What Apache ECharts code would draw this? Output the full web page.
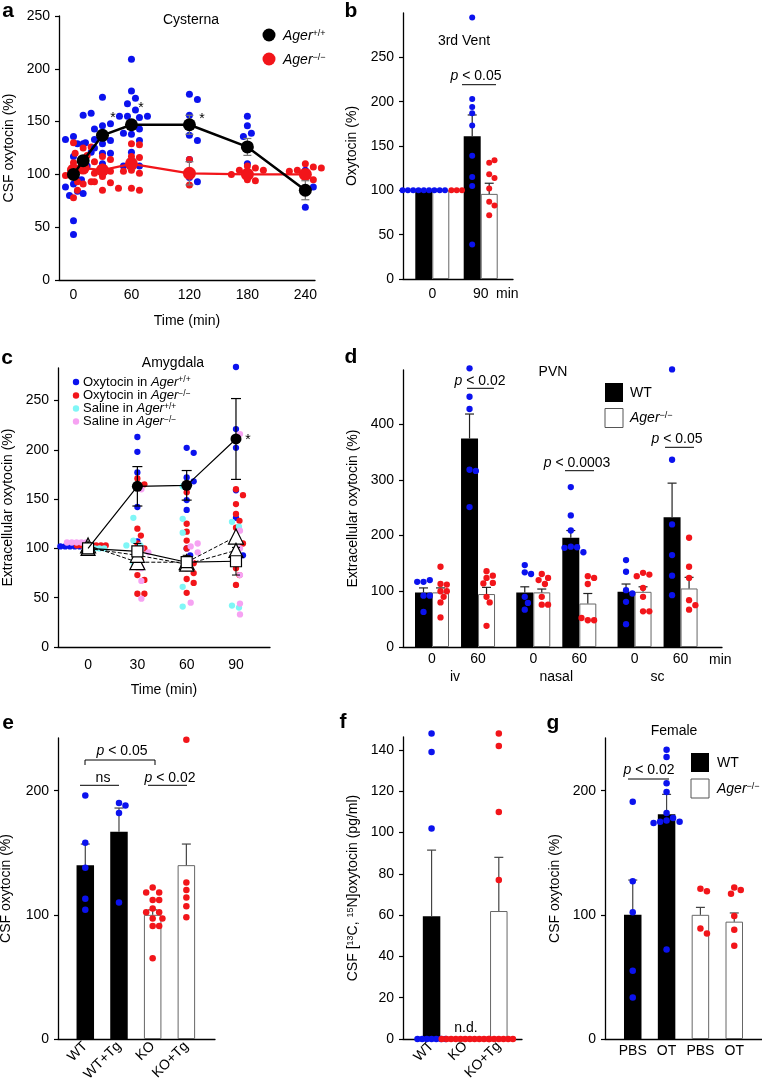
<!DOCTYPE html>
<html><head><meta charset="utf-8">
<script src="https://cdn.jsdelivr.net/npm/echarts@6/dist/echarts.min.js"></script>
<style>html,body{margin:0;padding:0;background:#fff}#c{width:762px;height:1083px}</style>
</head><body><div id="c"></div>
<script>
// ================= DATA =================
// Panel a (Cysterna)
const aTimes = [0, 10, 30, 60, 120, 180, 240];
const aTicks = [0, 60, 120, 180, 240];
const aYTicks = [0, 50, 100, 150, 200, 250];
const aWT = [100, 113, 137, 147, 147, 126, 85];
const aWTerr = [3, 4, 4, 4, 9, 8, 9];
const aKO = [104, 106, 104, 110, 101, 100, 100];
const aKOerr = [3, 3, 3, 5, 11, 3, 4];
const aBlueDots = [
  [136,129,133,117,112,107,91,95,84,88,80,56,43,130],
  [156,158,115,129,108,82,105,121],
  [173,146,148,143,137,132,133,129,125,120,120,110],
  [209,179,172,167,161,155,154,155,155,146,143,138,139,132,121,113,108,108],
  [176,171,156,145,137,132,114,97,93],
  [155,146,139,136,126,110,99],
  [104,87,69,88]
];
const aRedDots = [
  [130,111,100,107,93,78,85,99],
  [125,126,120,118,91,93,105,100],
  [117,114,112,107,103,101,98,92,93,85,87],
  [129,128,117,116,104,101,103,87,85],
  [114,90],
  [108,106,104,104,95,94,100],
  [110,107,101,104,95,106,103]
];
// Panel b (3rd Vent)
const bCats = ['0', '90'];
const bYTicks = [0, 50, 100, 150, 200, 250];
const bWT = [100, 161], bWTerr = [0, 24];
const bKO = [100, 96], bKOerr = [0, 12];
const bBlueDots = [[100,100,100,100,100,100,100,100,100],[295,203,194,187,173,139,115,105,39]];
const bRedDots = [[100,100,100],[131,134,118,114,102,87,83,72]];
// Panel c (Amygdala)
const cTimes = [0, 30, 60, 90];
const cYTicks = [0, 50, 100, 150, 200, 250];
const cOxyWT = [100, 163, 164, 211], cOxyWTerr = [0, 20, 15, 41];
const cOxyKO = [100, 97, 86, 87], cOxyKOerr = [0, 8, 7, 14];
const cSalWT = [103, 86, 86, 112];
const cSalKO = [100, 93, 84, 98];
const cBlueDots = [[102,102,102,102,102,102],[213,198,177,142,107,91],[202,197,172,168,149,139,100,93],[284,221,202,159,131,96,93]];
const cRedDots = [[103,103,103,103,103,103,103],[171,165,120,113,105,100,95,88,81,73,68,54,54],[157,125,117,108,100,90,85,80,75,69,65,55],[160,154,145,135,128,121,110,105,80,73,63]];
const cCyanDots = [[100,100,100,100,100],[131,108,103,103,86],[163,130,116,61,41],[127,122,42,40]];
const cPinkDots = [[106,106,106,106,106],[160,100,96,67,49,80],[102,105,96,45,88],[216,118,100,73,44,33]];
// Panel d (PVN)
const dCats = ['0','60','0','60','0','60'];
const dRoutes = ['iv','nasal','sc'];
const dYTicks = [0, 100, 200, 300, 400];
const dWT = [98, 374, 98, 196, 99, 233], dWTerr = [8, 44, 10, 13, 14, 61];
const dKO = [98, 95, 98, 78, 99, 105], dKOerr = [8, 12, 6, 18, 9, 20];
const dBlueDots = [[117,120,117,92,92,63],[500,449,427,318,316,251],[147,134,131,90,79,67],[287,236,209,180,179,178,170],[156,135,102,96,81,41],[498,336,220,165,128,93]];
const dRedDots = [[144,113,112,100,100,90,80,53],[136,128,124,115,114,90,80,38],[131,124,120,113,90,76,76],[127,124,113,48,48,52],[133,130,127,106,90,64,64],[196,144,124,84,75,67]];
// Panel e
const eCats = ['WT','WT+Tg','KO','KO+Tg'];
const eYTicks = [0, 100, 200];
const eMeans = [140, 167, 100, 140], eErr = [17, 19, 4, 17];
const eIsKO = [false, false, true, true];
const eDots = [[196,158,138,113,104],[190,188,182,110],[122,118,118,112,112,105,102,102,97,97,91,91,65],[241,126,120,114,107,98]];
// Panel f
const fCats = ['WT','KO','KO+Tg'];
const fYTicks = [0, 20, 40, 60, 80, 100, 120, 140];
const fMeans = [59.5, null, 62], fErr = [32, 0, 26];
const fIsKO = [false, true, true];
const fDots = [[148,139,102,0,0,0,0,0,0,0],[0,0,0,0,0,0,0,0,0,0,0],[148,142,110,77,0,0,0,0,0,0]];
// Panel g (Female)
const gCats = ['PBS','OT','PBS','OT'];
const gYTicks = [0, 100, 200];
const gMeans = [100, 181, 100, 94.5], gErr = [28, 16, 6, 7];
const gIsKO = [false, false, true, true];
const gDots = [[191,127,102,55,33.5],[233,227,206,199,182,178,176,175,175,174,72],[121,119,89,85],[122,120,117,99,88,75]];

// ================= LAYOUT / STYLE =================
const FONT = '"Liberation Sans", Arial, Helvetica, sans-serif';
const BLUE = '#0b12ee', RED = '#f2151a', CYAN = '#7ff6f6', PINK = '#f6a2f2';
const L = {
  a:{left:59, top:16, width:256, height:264, x:[-15,250], y:[0,250]},
  b:{left:403, top:13, width:110, height:266, x:[-0.605,1.667], y:[0,300]},
  c:{left:58, top:368, width:212, height:279, x:[-18.3,110.7], y:[0,283]},
  d:{left:403, top:370, width:319, height:277, x:[-0.63,6.30], y:[0,497]},
  e:{left:58, top:738, width:157, height:301, x:[-0.81,3.85], y:[0,242.4]},
  f:{left:403, top:737, width:119, height:302, x:[-0.85,2.69], y:[0,146.3]},
  g:{left:605, top:738, width:157, height:301, x:[-0.82,3.82], y:[0,242.4]}
};
const KEYS = ['a','b','c','d','e','f','g'];
const IDX = {}; KEYS.forEach((k,i)=>IDX[k]=i);
const pxX = k => L[k].width/(L[k].x[1]-L[k].x[0]);
const pxY = k => L[k].height/(L[k].y[1]-L[k].y[0]);

function swarm(vals, k, center, dist, occ) {
  occ = occ || [];
  const step = dist/2, sy = pxY(k);
  return vals.map(v => {
    const y = v*sy; let off = center;
    for (let n=0; n<600; n++) {
      const m = Math.ceil(n/2)*(n%2 ? 1 : -1);
      const cand = center + m*step;
      if (occ.every(p => (p[0]-cand)**2 + (p[1]-y)**2 >= dist*dist*0.98)) { off = cand; break; }
    }
    occ.push([off, y]);
    return off;
  });
}
function dotItems(x, vals, offs) {
  return vals.map((v,i)=>({value:[x, v], symbolOffset:[offs[i], 0]}));
}
function scatter(k, data, color, size, z) {
  return {type:'scatter', xAxisIndex:IDX[k], yAxisIndex:IDX[k], data, symbol:'circle', symbolSize:size,
    itemStyle:{color, opacity:1}, z:z||3, clip:false, silent:true};
}
function errSeries(k, pts, o) {
  return {type:'custom', xAxisIndex:IDX[k], yAxisIndex:IDX[k], z:o.z||4, silent:true, clip:false,
    dimensions:['x','y','e'], encode:{x:'x', y:'y'}, data:pts,
    renderItem(params, api){
      const x = api.value(0), m = api.value(1), e = api.value(2);
      if (!e) return null;
      const p0 = api.coord([x, m]), p1 = api.coord([x, m+e]);
      const p2 = o.both ? api.coord([x, m-e]) : p0;
      const cx = p0[0] + (o.dx||0), cw = o.cap||4.5;
      const st = {stroke:o.color||'#333', lineWidth:o.lw||1.2};
      const ch = [
        {type:'line', shape:{x1:cx,y1:p2[1],x2:cx,y2:p1[1]}, style:st},
        {type:'line', shape:{x1:cx-cw,y1:p1[1],x2:cx+cw,y2:p1[1]}, style:st}
      ];
      if (o.both) ch.push({type:'line', shape:{x1:cx-cw,y1:p2[1],x2:cx+cw,y2:p2[1]}, style:st});
      return {type:'group', children:ch};
    }};
}
const TXT = {color:'#000', fontSize:14, fontFamily:FONT};
function xAx(k, o) {
  return {type:'value', gridIndex:IDX[k], min:L[k].x[0], max:L[k].x[1],
    axisLine:{show:true, onZero:false, lineStyle:{color:'#000', width:1.3}},
    axisTick:{show:false}, splitLine:{show:false},
    axisLabel:Object.assign({color:'#000', fontSize:14, fontFamily:FONT, margin:o.margin||8,
      customValues:o.ticks, formatter:o.fmt}, o.label||{}),
    name:o.name||'', nameLocation:'middle', nameGap:o.nameGap||35, nameTextStyle:TXT};
}
function yAx(k, o) {
  return {type:'value', gridIndex:IDX[k], min:L[k].y[0], max:L[k].y[1],
    axisLine:{show:true, onZero:false, lineStyle:{color:'#000', width:1.3}},
    axisTick:{show:true, length:4, customValues:o.ticks, lineStyle:{color:'#000', width:1.2}},
    splitLine:{show:false},
    axisLabel:{color:'#000', fontSize:14, fontFamily:FONT, margin:9, customValues:o.ticks},
    name:o.name, nameLocation:'middle', nameRotate:90, nameGap:o.nameGap||43,
    nameTextStyle:Object.assign({}, TXT, o.rich?{rich:o.rich}:{})};
}

const option = {animation:false, backgroundColor:'#fff', grid:[], xAxis:[], yAxis:[], series:[], graphic:[]};
KEYS.forEach(k=>option.grid.push({left:L[k].left, top:L[k].top, width:L[k].width, height:L[k].height, containLabel:false, outerBoundsMode:'none'}));
const S = option.series;

// ---------- a ----------
option.xAxis.push(xAx('a', {ticks:aTicks, name:'Time (min)', nameGap:34, margin:8}));
option.yAxis.push(yAx('a', {ticks:aYTicks, name:'CSF oxytocin (%)', nameGap:43}));
aTimes.forEach((t,i)=>{
  const ob = swarm(aBlueDots[i], 'a', 0, 8);
  S.push(scatter('a', dotItems(t, aBlueDots[i], ob), BLUE, 7, 2));
  const orr = swarm(aRedDots[i], 'a', 0, 8);
  S.push(scatter('a', dotItems(t, aRedDots[i], orr), RED, 7, 2));
});
S.push(errSeries('a', aTimes.map((t,i)=>[t, aKO[i], aKOerr[i]]), {both:true, color:'#777', z:3, cap:4}));
S.push({type:'line', xAxisIndex:0, yAxisIndex:0, data:aTimes.map((t,i)=>[t, aKO[i]]), symbol:'circle', symbolSize:13,
  lineStyle:{color:RED, width:2.3}, itemStyle:{color:RED}, z:4, silent:true});
S.push(errSeries('a', aTimes.map((t,i)=>[t, aWT[i], aWTerr[i]]), {both:true, color:'#777', z:5, cap:4}));
S.push({type:'line', xAxisIndex:0, yAxisIndex:0, data:aTimes.map((t,i)=>[t, aWT[i]]), symbol:'circle', symbolSize:13,
  lineStyle:{color:'#000', width:2.5}, itemStyle:{color:'#000'}, z:6, silent:true});

// ---------- b ----------
const bPos = bCats.map((_,i)=>i);
option.xAxis.push(xAx('b', {ticks:bPos, fmt:v=>bCats[Math.round(v)], margin:8}));
option.yAxis.push(yAx('b', {ticks:bYTicks, name:'Oxytocin (%)', nameGap:44}));
S.push({type:'bar', xAxisIndex:1, yAxisIndex:1, data:bPos.map((p,i)=>[p,bWT[i]]), barWidth:17, barGap:'0%', itemStyle:{color:'#000'}, z:2, silent:true});
S.push({type:'bar', xAxisIndex:1, yAxisIndex:1, data:bPos.map((p,i)=>[p,bKO[i]]), barWidth:17, barGap:'0%', itemStyle:{color:'#fff', borderColor:'#666', borderWidth:1}, z:2, silent:true});
S.push(errSeries('b', bPos.map((p,i)=>[p,bWT[i],bWTerr[i]]), {dx:-8.5, color:'#222'}));
S.push(errSeries('b', bPos.map((p,i)=>[p,bKO[i],bKOerr[i]]), {dx:8.5, color:'#222'}));
bPos.forEach((p,i)=>{
  const occ = [];
  const ob = swarm(bBlueDots[i], 'b', -8.5, 5.3, occ);
  S.push(scatter('b', dotItems(p, bBlueDots[i], ob), BLUE, 6, 5));
  const orr = swarm(bRedDots[i], 'b', 8.5, 5.3, occ);
  S.push(scatter('b', dotItems(p, bRedDots[i], orr), RED, 6, 5));
});

// ---------- c ----------
option.xAxis.push(xAx('c', {ticks:cTimes, name:'Time (min)', nameGap:36, margin:11}));
option.yAxis.push(yAx('c', {ticks:cYTicks, name:'Extracellular oxytocin (%)', nameGap:43}));
const cBase = {blue:-11, pink:-7, red:2, cyan:4};
const cSide = {blue:0, red:0, cyan:-4, pink:4};
cTimes.forEach((t,i)=>{
  const sets = [[cBlueDots[i], BLUE, 'blue'], [cRedDots[i], RED, 'red'], [cCyanDots[i], CYAN, 'cyan'], [cPinkDots[i], PINK, 'pink']];
  sets.forEach(([vals, col, nm])=>{
    const cx = i===0 ? cBase[nm]*pxX('c') : cSide[nm];
    const offs = swarm(vals, 'c', cx, i===0 ? 4.8 : 7);
    S.push(scatter('c', dotItems(t, vals, offs), col, 6.3, 2));
  });
});
S.push({type:'line', xAxisIndex:2, yAxisIndex:2, data:cTimes.map((t,i)=>[t,cSalWT[i]]), symbol:'triangle', symbolSize:15,
  lineStyle:{color:'#000', width:1, type:'dashed'}, itemStyle:{color:'#fff', borderColor:'#000', borderWidth:1.2}, z:5, silent:true});
S.push({type:'line', xAxisIndex:2, yAxisIndex:2, data:cTimes.map((t,i)=>[t,cSalKO[i]]), symbol:'triangle', symbolSize:14,
  lineStyle:{color:'#000', width:1, type:'dashed'}, itemStyle:{color:'#fff', borderColor:'#000', borderWidth:1.2}, z:5, silent:true});
S.push(errSeries('c', cTimes.map((t,i)=>[t,cOxyKO[i],cOxyKOerr[i]]), {both:true, color:'#000', z:5, cap:4, lw:1}));
S.push({type:'line', xAxisIndex:2, yAxisIndex:2, data:cTimes.map((t,i)=>[t,cOxyKO[i]]), symbol:'rect', symbolSize:11,
  lineStyle:{color:'#000', width:1.2}, itemStyle:{color:'#fff', borderColor:'#000', borderWidth:1.2}, z:6, silent:true});
S.push(errSeries('c', cTimes.map((t,i)=>[t,cOxyWT[i],cOxyWTerr[i]]), {both:true, color:'#000', z:6, cap:5, lw:1.2}));
S.push({type:'line', xAxisIndex:2, yAxisIndex:2, data:cTimes.map((t,i)=>({value:[t,cOxyWT[i]], symbol: i===0?'none':'circle'})), symbol:'circle', symbolSize:11,
  lineStyle:{color:'#000', width:1.2}, itemStyle:{color:'#000'}, z:7, silent:true});

// ---------- d ----------
const dPos = dCats.map((_,i)=>i + 0.2*Math.floor(i/2));
option.xAxis.push(xAx('d', {ticks:dPos, fmt:v=>dCats[dPos.findIndex(p=>Math.abs(p-v)<1e-6)], margin:5}));
option.yAxis.push(yAx('d', {ticks:dYTicks, name:'Extracellular oxytocin (%)', nameGap:43}));
S.push({type:'bar', xAxisIndex:3, yAxisIndex:3, data:dPos.map((p,i)=>[p,dWT[i]]), barWidth:17, barGap:'0%', itemStyle:{color:'#000'}, z:2, silent:true});
S.push({type:'bar', xAxisIndex:3, yAxisIndex:3, data:dPos.map((p,i)=>[p,dKO[i]]), barWidth:17, barGap:'0%', itemStyle:{color:'#fff', borderColor:'#666', borderWidth:1}, z:2, silent:true});
S.push(errSeries('d', dPos.map((p,i)=>[p,dWT[i],dWTerr[i]]), {dx:-8.5, color:'#222'}));
S.push(errSeries('d', dPos.map((p,i)=>[p,dKO[i],dKOerr[i]]), {dx:8.5, color:'#222'}));
dPos.forEach((p,i)=>{
  S.push(scatter('d', dotItems(p, dBlueDots[i], swarm(dBlueDots[i], 'd', -8.5, 6.3)), BLUE, 6.3, 5));
  S.push(scatter('d', dotItems(p, dRedDots[i], swarm(dRedDots[i], 'd', 8.5, 6.3)), RED, 6.3, 5));
});

// ---------- e / f / g ----------
function barPanel(k, cats, means, errs, isKO, dots, yTicks, yName, nameGap, rot, dist) {
  const pos = cats.map((_,i)=>i);
  option.xAxis.push(xAx(k, {ticks:pos, fmt:v=>cats[Math.round(v)], margin:5, label: rot?{rotate:45}:{}}));
  option.yAxis.push(yAx(k, {ticks:yTicks, name:yName, nameGap, rich:{s:{fontSize:9, fontFamily:FONT, color:'#000', verticalAlign:'top'}}}));
  const bd = [];
  pos.forEach((p,i)=>{ if (means[i]!=null) bd.push({value:[p, means[i]], itemStyle: isKO[i] ? {color:'#fff', borderColor:'#666', borderWidth:1} : {color:'#000'}}); });
  S.push({type:'bar', xAxisIndex:IDX[k], yAxisIndex:IDX[k], data:bd, barWidth:17.5, z:2, silent:true});
  S.push(errSeries(k, pos.filter(i=>means[i]!=null).map(i=>[i, means[i], errs[i]]), {color:'#444', z:3}));
  pos.forEach((p,i)=>{
    S.push(scatter(k, dotItems(p, dots[i], swarm(dots[i], k, 0, dist)), isKO[i]?RED:BLUE, 6.5, 5));
  });
}
barPanel('e', eCats, eMeans, eErr, eIsKO, eDots, eYTicks, 'CSF oxytocin (%)', 45, true, 6.5);
barPanel('f', fCats, fMeans, fErr, fIsKO, fDots, fYTicks, 'CSF [{s|13}C, {s|15}N]oxytocin (pg/ml)', 43, true, 4.7);
barPanel('g', gCats, gMeans, gErr, gIsKO, gDots, gYTicks, 'CSF oxytocin (%)', 43, false, 6.5);

// ================= ANNOTATIONS =================
const G = option.graphic;
const RICH = {
  i:{fontStyle:'italic', fontSize:14, fontFamily:FONT, fill:'#000'},
  s:{fontSize:9, fontFamily:FONT, fill:'#000', verticalAlign:'top'},
  i13:{fontStyle:'italic', fontSize:13, fontFamily:FONT, fill:'#000'},
  s13:{fontSize:8.5, fontFamily:FONT, fill:'#000', verticalAlign:'top'}
};
function txt(x, y, text, o) {
  o = o || {};
  return {type:'text', x, y, silent:true, z:100, style:{text, fill:'#000', fontSize:o.size||14, fontFamily:FONT,
    fontWeight:o.weight||'normal', fontStyle:o.style||'normal', textAlign:o.align||'center', textVerticalAlign:o.va||'middle', rich:RICH}};
}
function ln(x1, y1, x2, y2) { return {type:'line', silent:true, z:100, shape:{x1,y1,x2,y2}, style:{stroke:'#000', lineWidth:1}}; }
// panel letters
[['a',8,11],['b',351,11],['c',7,358],['d',351,357],['e',8,723],['f',343,722],['g',553,723]].forEach(([t,x,y])=>G.push(txt(x,y,t,{size:21, weight:'bold'})));
// titles
G.push(txt(191, 20, 'Cysterna'), txt(464, 41, '3rd Vent'), txt(173, 363, 'Amygdala'), txt(553, 372, 'PVN'), txt(674, 731, 'Female'));
// legend a
G.push({type:'circle', silent:true, z:100, shape:{cx:269, cy:35, r:6.5}, style:{fill:'#000'}});
G.push({type:'circle', silent:true, z:100, shape:{cx:269, cy:59, r:6.5}, style:{fill:RED}});
G.push(txt(283, 36, '{i|Ager}{s|+/+}', {align:'left'}), txt(283, 60, '{i|Ager}{s|−/−}', {align:'left'}));
// legend c
[[382, BLUE, 'Oxytocin in {i13|Ager}{s13|+/+}'],[395.5, RED, 'Oxytocin in {i13|Ager}{s13|−/−}'],[408.5, CYAN, 'Saline in {i13|Ager}{s13|+/+}'],[421.5, PINK, 'Saline in {i13|Ager}{s13|−/−}']].forEach(([y,c,t])=>{
  G.push({type:'circle', silent:true, z:100, shape:{cx:76, cy:y, r:3.2}, style:{fill:c}});
  G.push(txt(83, y, t, {align:'left', size:13}));
});
// legend d & g
function boxLegend(x, y1, y2, tx) {
  G.push({type:'rect', silent:true, z:100, shape:{x, y:y1, width:18, height:19}, style:{fill:'#000'}});
  G.push({type:'rect', silent:true, z:100, shape:{x, y:y2, width:18, height:19}, style:{fill:'#fff', stroke:'#555', lineWidth:1}});
  G.push(txt(tx, y1+10, 'WT', {align:'left'}), txt(tx, y2+10, '{i|Ager}{s|−/−}', {align:'left'}));
}
boxLegend(605, 383, 408.5, 630);
boxLegend(691, 753, 779, 717);
// p-values
G.push(txt(476, 76, '{i|p} < 0.05'), ln(462, 84.7, 496, 84.7));
G.push(txt(480, 380.7, '{i|p} < 0.02'), ln(467, 388.3, 494, 388.3));
G.push(txt(577, 463.3, '{i|p} < 0.0003'), ln(565, 470.7, 594, 470.7));
G.push(txt(677, 439.3, '{i|p} < 0.05'), ln(665, 447.3, 694, 447.3));
G.push(txt(122, 751.5, '{i|p} < 0.05'));
G.push({type:'polyline', silent:true, z:100, shape:{points:[[85,765],[85,760],[155,760],[155,765]]}, style:{stroke:'#000', lineWidth:1, fill:null}});
G.push(txt(103, 778, 'ns'), ln(80, 785.3, 119, 785.3));
G.push(txt(170, 778, '{i|p} < 0.02'), ln(148, 785.3, 187, 785.3));
G.push(txt(649, 770.5, '{i|p} < 0.02'), ln(628, 779, 669, 779));
// asterisks
[[113,118],[141,108],[202,119],[248,440]].forEach(([x,y])=>G.push(txt(x, y, '*', {size:14})));
// misc
G.push(txt(466, 1028, 'n.d.'));
G.push(txt(496, 294, 'min', {align:'left'}));
G.push(txt(709, 660, 'min', {align:'left'}));
dRoutes.forEach((r,i)=>{
  const px = L.d.left + ((dPos[2*i]+dPos[2*i+1])/2 - L.d.x[0])*pxX('d');
  G.push(txt(px, 677, r));
});

const chart = echarts.init(document.getElementById('c'), null, {renderer:'canvas'});
chart.setOption(option);
</script></body></html>
